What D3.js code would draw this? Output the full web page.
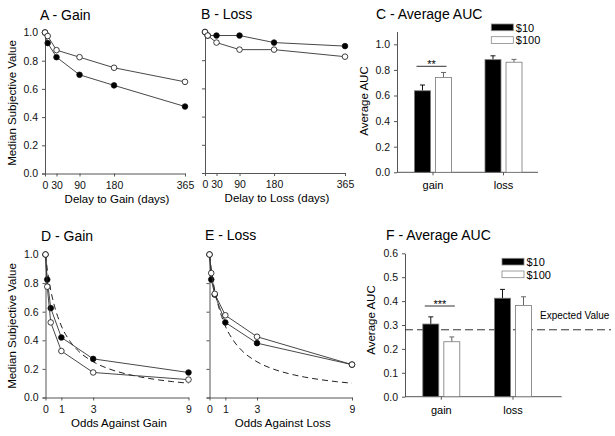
<!DOCTYPE html>
<meta charset="utf-8">
<script src="https://d3js.org/d3.v7.min.js"></script>
<div id="my_dataviz"></div>
<script>

// delay discounting (top row)
var delays = [0, 7, 30, 90, 180, 365];
var gainDelay10 = [1.0, 0.925, 0.825, 0.70, 0.625, 0.475];
var gainDelay100 = [1.0, 0.975, 0.875, 0.825, 0.75, 0.65];
var lossDelay10 = [1.0, 0.975, 0.975, 0.975, 0.925, 0.90];
var lossDelay100 = [1.0, 0.975, 0.925, 0.875, 0.875, 0.825];
var delayTicks = [0, 30, 90, 180, 365];

// probability discounting (bottom row)
var odds = [0, 0.11, 0.33, 1, 3, 9];
var gainOdds10 = [1.0, 0.825, 0.625, 0.42, 0.27, 0.175];
var gainOdds100 = [1.0, 0.775, 0.525, 0.325, 0.175, 0.125];
var lossOdds10 = [1.0, 0.825, 0.72, 0.525, 0.38, 0.23];
var lossOdds100 = [1.0, 0.87, 0.725, 0.575, 0.425, 0.23];
var oddsTicks = [0, 1, 3, 9];

// expected value curve (dashed)
var evOdds = [0, 0.11, 0.33, 0.5, 1, 1.5, 2, 3, 4, 5, 6, 7, 8, 9];
var evValue = [1, 0.9, 0.75, 0.667, 0.5, 0.4, 0.333, 0.25, 0.2, 0.167, 0.143, 0.125, 0.111, 0.1];

// average AUC bars
var groups = ["gain", "loss"];
var amounts = ["$10", "$100"];
var delayAuc = [[0.637, 0.74], [0.88, 0.86]];
var delayAucErr = [[0.045, 0.04], [0.03, 0.022]];
var oddsAuc = [[0.304, 0.23], [0.412, 0.382]];
var oddsAucErr = [[0.03, 0.02], [0.037, 0.036]];
var expectedValue = 0.28;

var svg = d3.select("#my_dataviz")
	.append("svg")
		.attr("width", 615)
		.attr("height", 436);

svg.append("rect").attr("width", 615).attr("height", 436).attr("fill", "white");

function styleAxis(g) {
	g.selectAll("path").attr("stroke", "#555").attr("stroke-width", 1);
	g.selectAll("line").attr("stroke", "#555");
	g.selectAll("text").attr("fill", "#111").style("font-size", "10.5px");
}

function fmt1(d) { return d3.format(".1f")(d); }

function linePanel(o) {
	var x = d3.scaleLinear().domain(o.xDomain).range(o.xRange);
	var y = d3.scaleLinear().domain([0, 1]).range(o.yRange);

	var yAxis = d3.axisLeft(y).tickValues(d3.range(0, 1.01, 0.2)).tickSize(3).tickPadding(4)
		.tickFormat(o.yLabels ? fmt1 : "");
	svg.append("g")
		.attr("transform", "translate(" + o.xRange[0] + ",0)")
		.call(yAxis)
		.call(styleAxis);

	svg.append("g")
		.attr("transform", "translate(0," + o.yRange[0] + ")")
		.call(d3.axisBottom(x).tickValues(o.xTicks).tickSize(3).tickPadding(5).tickSizeOuter(0))
		.call(styleAxis);

	var line = d3.line()
		.x(function(d) { return x(d[0]); })
		.y(function(d) { return y(d[1]); });

	if (o.dashed) {
		var ev = evOdds.map(function(v, i) { return [v, evValue[i]]; });
		svg.append("path")
			.attr("d", line.curve(d3.curveMonotoneX)(ev))
			.attr("fill", "none")
			.attr("stroke", "#222")
			.attr("stroke-width", 1)
			.attr("stroke-dasharray", "6,4");
		line.curve(d3.curveLinear);
	}

	[[o.filled, "black"], [o.open, "white"]].forEach(function(s) {
		var pts = o.xs.map(function(v, i) { return [v, s[0][i]]; });
		svg.append("path")
			.attr("d", line(pts))
			.attr("fill", "none")
			.attr("stroke", "#333")
			.attr("stroke-width", 0.9);
		svg.selectAll(null)
			.data(pts)
			.enter().append("circle")
				.attr("cx", function(d) { return x(d[0]); })
				.attr("cy", function(d) { return y(d[1]); })
				.attr("r", 2.8)
				.attr("fill", s[1])
				.attr("stroke", "#111")
				.attr("stroke-width", 0.8);
	});

	svg.append("text")
		.attr("x", o.titleX).attr("y", o.titleY)
		.style("font-size", "14px")
		.text(o.title);

	svg.append("text")
		.attr("x", (o.xRange[0] + o.xRange[1]) / 2 + 2)
		.attr("y", o.yRange[0] + 29)
		.attr("text-anchor", "middle")
		.style("font-size", "11.5px")
		.text(o.xLabel);

	if (o.yLabels) {
		svg.append("text")
			.attr("transform", "translate(16," + (o.yRange[0] + o.yRange[1]) / 2 + ") rotate(-90)")
			.attr("text-anchor", "middle")
			.style("font-size", "11.5px")
			.text("Median Subjective Value");
	}
}

function barPanel(o) {
	var y = d3.scaleLinear().domain([0, o.yMax]).range(o.yRange);
	var x0 = d3.scalePoint().domain(groups).range(o.centers);
	var x1 = d3.scaleBand().domain(amounts).range([-18.5, 18.5]).paddingInner(0.24);

	svg.append("g")
		.attr("transform", "translate(" + o.xRange[0] + ",0)")
		.call(d3.axisLeft(y).tickValues(o.yTicks).tickSize(3).tickPadding(4).tickFormat(fmt1).tickSizeOuter(0))
		.call(styleAxis);

	var xAxis = svg.append("g")
		.attr("transform", "translate(0," + o.yRange[0] + ")");
	xAxis.append("line")
		.attr("x1", o.xRange[0]).attr("x2", o.xRange[1])
		.attr("stroke", "#555");
	xAxis.selectAll(null)
		.data(groups)
		.enter().append("line")
			.attr("x1", function(d) { return x0(d); })
			.attr("x2", function(d) { return x0(d); })
			.attr("y2", 3)
			.attr("stroke", "#555");
	xAxis.selectAll(null)
		.data(groups)
		.enter().append("text")
			.attr("x", function(d) { return x0(d); })
			.attr("y", 17)
			.attr("text-anchor", "middle")
			.style("font-size", "11px")
			.text(function(d) { return d; });

	if (o.expected !== undefined) {
		svg.append("line")
			.attr("x1", o.xRange[0]).attr("x2", 611)
			.attr("y1", y(o.expected)).attr("y2", y(o.expected))
			.attr("stroke", "#333")
			.attr("stroke-width", 1)
			.attr("stroke-dasharray", "8,4");
		svg.append("text")
			.attr("x", 540).attr("y", y(o.expected) - 11)
			.style("font-size", "10px")
			.text("Expected Value");
	}

	groups.forEach(function(g, gi) {
		amounts.forEach(function(a, ai) {
			var bx = x0(g) + x1(a);
			var v = o.values[gi][ai];
			var e = o.errors[gi][ai];
			var cx = bx + x1.bandwidth() / 2;
			svg.append("line")
				.attr("x1", cx).attr("x2", cx)
				.attr("y1", y(v)).attr("y2", y(v + e))
				.attr("stroke", ai === 0 ? "#111" : "#666");
			svg.append("line")
				.attr("x1", cx - 2.5).attr("x2", cx + 2.5)
				.attr("y1", y(v + e)).attr("y2", y(v + e))
				.attr("stroke", ai === 0 ? "#111" : "#666");
			svg.append("rect")
				.attr("x", bx).attr("y", y(v))
				.attr("width", x1.bandwidth())
				.attr("height", y(0) - y(v))
				.attr("fill", ai === 0 ? "black" : "white")
				.attr("stroke", "#777")
				.attr("stroke-width", 0.8);
		});
	});

	// significance bracket over gain
	var sx1 = x0("gain") + x1("$10") + 2;
	var sx2 = x0("gain") + x1("$100") + x1.bandwidth() - 5;
	svg.append("line")
		.attr("x1", sx1).attr("x2", sx2)
		.attr("y1", o.sigY).attr("y2", o.sigY)
		.attr("stroke", "#333");
	svg.append("text")
		.attr("x", (sx1 + sx2) / 2).attr("y", o.sigY + 2)
		.attr("text-anchor", "middle")
		.style("font-size", "11px")
		.text(o.sig);

	// legend
	amounts.forEach(function(a, i) {
		svg.append("rect")
			.attr("x", o.legendX).attr("y", o.legendY + i * 12.7)
			.attr("width", 22).attr("height", 6.7)
			.attr("fill", i === 0 ? "black" : "white")
			.attr("stroke", "#888")
			.attr("stroke-width", 0.8);
		svg.append("text")
			.attr("x", o.legendX + 24.5).attr("y", o.legendY + i * 12.7 + 7.5)
			.style("font-size", "11px")
			.text(a);
	});

	svg.append("text")
		.attr("x", o.titleX).attr("y", o.titleY)
		.style("font-size", "14px")
		.text(o.title);

	svg.append("text")
		.attr("transform", "translate(" + o.labelX + "," + o.labelY + ") rotate(-90)")
		.attr("text-anchor", "middle")
		.style("font-size", "11.5px")
		.text("Average AUC");
}

linePanel({ xs: delays, filled: gainDelay10, open: gainDelay100, xDomain: [0, 365], xRange: [45, 185],
	yRange: [173.5, 32.5], xTicks: delayTicks, yLabels: true, title: "A - Gain", titleX: 40, titleY: 20,
	xLabel: "Delay to Gain (days)" });
linePanel({ xs: delays, filled: lossDelay10, open: lossDelay100, xDomain: [0, 365], xRange: [205, 345],
	yRange: [173, 32], xTicks: delayTicks, yLabels: false, title: "B - Loss", titleX: 201, titleY: 19,
	xLabel: "Delay to Loss (days)" });
linePanel({ xs: odds, filled: gainOdds10, open: gainOdds100, xDomain: [0, 9], xRange: [45.5, 188.5],
	yRange: [397.5, 254.5], xTicks: oddsTicks, yLabels: true, dashed: true, title: "D - Gain", titleX: 41, titleY: 241,
	xLabel: "Odds Against Gain" });
linePanel({ xs: odds, filled: lossOdds10, open: lossOdds100, xDomain: [0, 9], xRange: [209.5, 352],
	yRange: [397.5, 254.5], xTicks: oddsTicks, yLabels: false, dashed: true, title: "E - Loss", titleX: 205, titleY: 240,
	xLabel: "Odds Against Loss" });

barPanel({ values: delayAuc, errors: delayAucErr, yMax: 1.1, yTicks: d3.range(0, 1.01, 0.2),
	yRange: [172.3, 31.5], xRange: [397, 538], centers: [433, 503.5], sig: "**", sigY: 66.3,
	legendX: 491.3, legendY: 24, title: "C - Average AUC", titleX: 376, titleY: 19, labelX: 368, labelY: 101 });
barPanel({ values: oddsAuc, errors: oddsAucErr, yMax: 0.6, yTicks: d3.range(0, 0.61, 0.1),
	yRange: [396.7, 253.3], xRange: [405, 561.7], centers: [441.3, 513], sig: "***", sigY: 306,
	legendX: 502, legendY: 258.3, expected: expectedValue,
	title: "F - Average AUC", titleX: 386, titleY: 240, labelX: 375, labelY: 320 });

</script>
<style>
body { margin: 0; }
text { font-family: "Liberation Sans", Arial, sans-serif; }
</style>
